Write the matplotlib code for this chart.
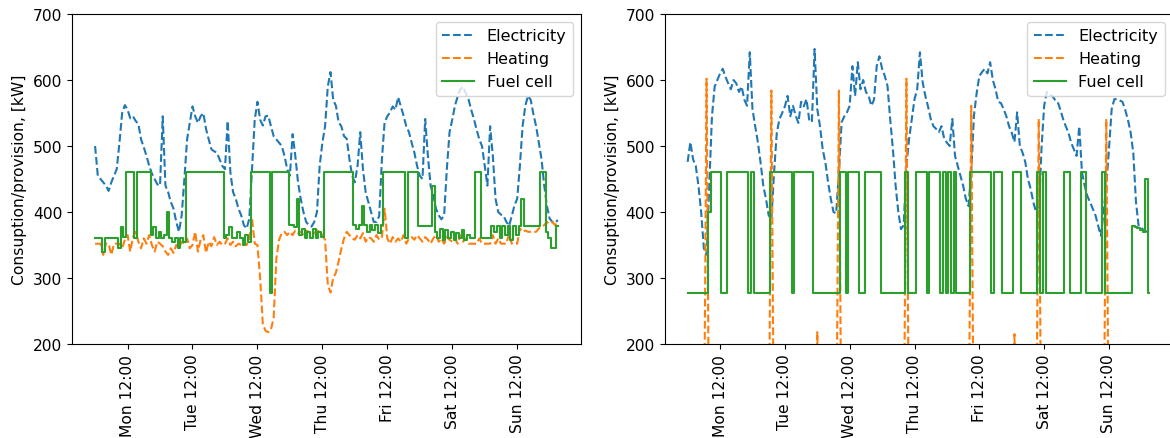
import numpy as np
import pandas as pd
import matplotlib
matplotlib.use('Agg')
import matplotlib.pyplot as plt
import matplotlib.dates as mdates

plt.rcParams['font.size'] = 11.2

# hourly time axis, one week starting on a Monday
times = pd.date_range('2018-01-01 00:00', periods=172, freq='h')

# left panel
elec_1 = [500, 455, 450, 445, 440, 432, 445, 455, 465, 505, 550, 562, 555, 542, 545, 538, 533, 510, 498, 485, 470, 458, 450, 442,
          440, 545, 440, 430, 415, 405, 385, 370, 395, 450, 510, 535, 560, 545, 535, 545, 550, 526, 510, 495, 492, 490, 480, 470,
          465, 538, 460, 430, 420, 405, 395, 380, 375, 390, 465, 540, 567, 540, 531, 545, 546, 530, 515, 510, 505, 500, 485, 465,
          455, 518, 485, 445, 420, 400, 385, 380, 378, 385, 400, 470, 505, 530, 590, 612, 570, 561, 536, 530, 515, 511, 480, 455,
          445, 470, 521, 465, 430, 415, 400, 385, 385, 394, 480, 536, 545, 551, 560, 555, 574, 560, 546, 530, 521, 505, 490, 470,
          455, 450, 541, 485, 440, 425, 405, 395, 389, 395, 465, 521, 540, 561, 575, 586, 590, 580, 571, 555, 541, 525, 510, 500,
          470, 440, 530, 485, 420, 400, 396, 394, 385, 379, 394, 410, 420, 470, 530, 561, 576, 570, 548, 530, 505, 480, 440, 409,
          390, 385, 383, 388]
heat_1 = [352, 352, 352, 335, 352, 352, 335, 352, 352, 352, 345, 358, 365, 340, 362, 370, 355, 345, 360, 352, 365, 350, 340, 355,
          352, 348, 340, 335, 345, 338, 350, 345, 355, 352, 360, 345, 350, 370, 340, 358, 365, 338, 355, 348, 362, 350, 355, 350,
          352, 360, 350, 355, 348, 352, 350, 355, 350, 360, 390, 352, 350, 300, 230, 220, 218, 222, 240, 330, 358, 368, 370, 365,
          370, 365, 372, 368, 370, 365, 372, 370, 365, 368, 372, 370, 365, 358, 290, 278, 300, 308, 325, 344, 360, 370, 365, 360,
          358, 365, 360, 368, 355, 362, 360, 355, 365, 358, 362, 405, 360, 352, 362, 355, 360, 355, 365, 352, 360, 362, 358, 365,
          360, 355, 362, 358, 352, 360, 365, 355, 360, 352, 362, 358, 355, 360, 352, 365, 355, 360, 352, 352, 352, 352, 360, 352,
          352, 352, 352, 365, 352, 360, 352, 352, 352, 367, 352, 352, 352, 375, 370, 372, 370, 370, 370, 370, 375, 378, 380, 385,
          382, 385, 380, 385]
fuel_1 = [360, 360, 360, 340, 360, 360, 360, 360, 360, 345, 378, 362, 460, 460, 460, 360, 460, 460, 460, 460, 460, 365, 378, 360,
          370, 360, 365, 400, 360, 355, 360, 345, 360, 355, 460, 460, 460, 460, 460, 460, 460, 460, 460, 460, 460, 460, 460, 460,
          360, 365, 378, 360, 360, 370, 360, 350, 365, 355, 460, 460, 460, 460, 460, 460, 460, 277, 460, 460, 460, 460, 460, 460,
          380, 380, 378, 420, 365, 375, 360, 370, 360, 375, 360, 370, 362, 460, 460, 460, 460, 460, 460, 460, 460, 460, 460, 460,
          380, 375, 380, 409, 380, 370, 380, 372, 380, 368, 380, 460, 460, 460, 460, 460, 460, 460, 460, 360, 460, 460, 460, 460,
          379, 379, 379, 379, 379, 440, 370, 360, 375, 358, 372, 360, 370, 358, 368, 360, 372, 358, 365, 360, 360, 460, 460, 360,
          360, 360, 360, 379, 370, 379, 360, 379, 365, 379, 358, 379, 365, 379, 420, 379, 379, 379, 379, 379, 379, 460, 460, 370,
          360, 345, 345, 379]

# right panel
elec_2 = [476, 506, 480, 470, 440, 400, 345, 335, 440, 545, 590, 600, 610, 617, 605, 595, 586, 600, 595, 582, 590, 570, 561, 642,
          556, 530, 506, 475, 440, 420, 395, 389, 460, 520, 541, 550, 560, 576, 545, 561, 546, 535, 567, 560, 571, 540, 536, 647,
          556, 530, 495, 475, 445, 420, 400, 398, 460, 536, 545, 551, 561, 621, 576, 627, 586, 600, 582, 576, 561, 570, 621, 636,
          617, 606, 591, 540, 495, 440, 400, 374, 380, 470, 511, 541, 571, 586, 642, 597, 576, 560, 541, 530, 526, 521, 530, 511,
          505, 500, 541, 485, 470, 455, 440, 420, 409, 460, 546, 580, 606, 612, 617, 610, 627, 600, 586, 567, 565, 556, 545, 530,
          520, 506, 551, 500, 490, 476, 450, 435, 415, 400, 394, 495, 561, 582, 578, 576, 570, 567, 555, 541, 530, 520, 505, 495,
          485, 530, 460, 440, 424, 415, 405, 395, 379, 364, 400, 440, 495, 556, 571, 571, 569, 567, 555, 540, 521, 490, 415, 378,
          376, 372, 370, 372]
heat_2 = [0, 0, 0, 0, 0, 0, 0, 602, 0, 0, 0, 0, 0, 0, 0, 0, 0, 0, 0, 0, 0, 0, 0, 0,
          0, 0, 0, 0, 0, 0, 0, 584, 0, 0, 0, 0, 0, 0, 0, 0, 0, 0, 0, 0, 0, 0, 0, 0,
          218, 0, 0, 0, 0, 0, 0, 0, 584, 0, 0, 0, 0, 0, 0, 0, 0, 0, 0, 0, 0, 0, 0, 0,
          0, 0, 0, 0, 0, 0, 0, 0, 0, 602, 0, 0, 0, 0, 0, 0, 0, 0, 0, 0, 0, 0, 0, 0,
          0, 0, 0, 0, 0, 0, 0, 0, 0, 561, 0, 0, 0, 0, 0, 0, 0, 0, 0, 0, 0, 0, 0, 0,
          0, 215, 0, 0, 0, 0, 0, 0, 0, 0, 541, 0, 0, 0, 0, 0, 0, 0, 0, 0, 0, 0, 0, 0,
          0, 0, 0, 0, 0, 0, 0, 0, 0, 0, 0, 541, 0, 0, 0, 0, 0, 0, 0, 0, 0, 0, 0, 0,
          0, 0, 0, 0]
fuel_2 = [277, 277, 277, 277, 277, 277, 277, 277, 400, 460, 460, 460, 460, 277, 277, 460, 460, 460, 460, 460, 460, 460, 460, 277,
          460, 277, 277, 277, 277, 277, 277, 460, 460, 460, 460, 460, 460, 460, 460, 277, 460, 460, 460, 460, 460, 460, 460, 277,
          277, 277, 277, 277, 277, 277, 277, 277, 277, 460, 460, 277, 460, 460, 460, 460, 277, 277, 460, 460, 460, 460, 460, 460,
          277, 277, 277, 277, 277, 277, 277, 277, 277, 460, 277, 277, 277, 460, 460, 460, 460, 277, 460, 460, 460, 460, 277, 460,
          277, 460, 277, 460, 277, 277, 277, 277, 277, 460, 460, 460, 460, 460, 460, 460, 460, 277, 460, 460, 460, 277, 277, 277,
          277, 460, 460, 460, 277, 277, 277, 277, 277, 277, 460, 277, 460, 277, 277, 277, 277, 277, 277, 277, 460, 460, 277, 277,
          277, 277, 460, 460, 277, 277, 277, 277, 277, 277, 460, 277, 277, 277, 277, 277, 277, 277, 277, 277, 277, 379, 378, 376,
          372, 370, 450, 277]

fig = plt.figure(figsize=(11.7, 4.39), dpi=100)
ax1 = fig.add_axes([0.0615, 0.2141, 0.435, 0.7517])
ax2 = fig.add_axes([0.568, 0.2141, 0.4342, 0.7517])

for ax, e, h, f in [(ax1, elec_1, heat_1, fuel_1), (ax2, elec_2, heat_2, fuel_2)]:
    ax.plot(times, e, '--', label='Electricity')
    ax.plot(times, h, '--', label='Heating')
    ax.plot(times, f, '-', drawstyle='steps-mid', label='Fuel cell')
    ax.set_ylim(200, 700)
    ax.set_ylabel('Consuption/provision, [kW]')
    ax.xaxis.set_major_locator(mdates.HourLocator(byhour=12))
    ax.xaxis.set_major_formatter(mdates.DateFormatter('%a %H:%M'))
    plt.setp(ax.get_xticklabels(), rotation=90)
    ax.legend(loc='upper right', fontsize=11.5)

fig.savefig('out.png', dpi=100)
